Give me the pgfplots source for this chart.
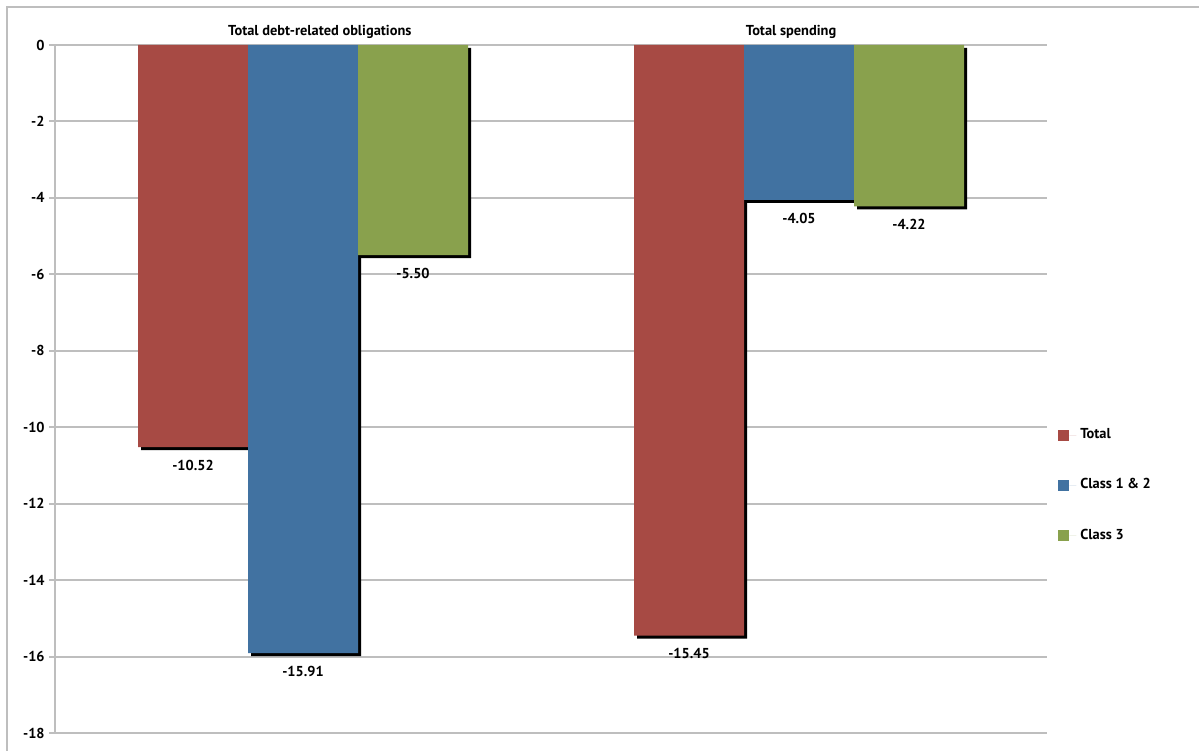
\documentclass[border=0pt]{standalone}
\usepackage{pgfplots}
\pgfplotsset{compat=1.18}
\usepackage{pgfplotstable}
\usepackage{fontspec}
\setmainfont{PT Sans}
\definecolor{cTotal}{RGB}{167,74,68}
\definecolor{cBlue}{RGB}{65,114,161}
\definecolor{cGreen}{RGB}{137,161,77}
\definecolor{gridgray}{RGB}{190,190,190}
\pgfplotstableread{
x Total Class12 Class3
0 -10.52 -15.91 -5.50
1 -15.45 -4.05 -4.22
}\data
\begin{document}
\begin{tikzpicture}
\useasboundingbox (0,0) rectangle (599.5pt,375pt);
\draw[gridgray, line width=1pt] (3.5pt,-1pt) -- (3.5pt,371.5pt) -- (600pt,371.5pt);
\begin{axis}[
  at={(27.5pt,8.5pt)}, anchor=south west,
  scale only axis, width=496pt, height=344pt,
  xmin=-0.5, xmax=1.5, ymin=-18, ymax=0,
  ytick={-18,-16,...,0},
  xtick=\empty,
  ymajorgrids, grid style={gridgray, line width=1pt},
  axis x line=none,
  axis y line*=left,
  axis line style={gridgray, line width=1pt, -},
  tick style={gridgray, line width=1pt},
  major tick length=3pt, tick align=outside,
  font=\bfseries\fontsize{7.2}{8.6}\selectfont,
  /pgf/number format/assume math mode=true,
  yticklabel style={font=\bfseries\fontsize{7.2}{8.6}\selectfont, inner sep=2pt, text=black},
  ybar, bar width=55pt,
  clip=false,
  legend style={draw=none, fill=none, at={(1.011,0.360)}, anchor=west,
    font=\bfseries\fontsize{7.2}{8.6}\selectfont, row sep=14.5pt, inner sep=0pt},
  legend cell align=left,
  legend image code/.code={\fill[#1] (0pt,-2.75pt) rectangle (5.5pt,2.75pt); \path (5.5pt,0pt) -- (9pt,0pt);},
  nodes near coords align={below},
  every node near coord/.append style={font=\bfseries\fontsize{7.2}{8.6}\selectfont, color=black, yshift=-3pt},
  nodes near coords={\pgfmathprintnumber[fixed, precision=2, fixed zerofill, assume math mode=true]{\pgfplotspointmeta}},
]
\addplot[forget plot, fill=black, draw=none, bar shift=-53.5pt, yshift=-1.5pt, nodes near coords={}] table[x=x, y=Total] {\data};
\addplot[forget plot, fill=black, draw=none, bar shift=1.5pt, yshift=-1.5pt, nodes near coords={}] table[x=x, y=Class12] {\data};
\addplot[forget plot, fill=black, draw=none, bar shift=56.5pt, yshift=-1.5pt, nodes near coords={}] table[x=x, y=Class3] {\data};
\addplot[fill=cTotal, draw=none, bar shift=-55pt] table[x=x, y=Total] {\data};
\addplot[fill=cBlue, draw=none, bar shift=0pt] table[x=x, y=Class12] {\data};
\addplot[fill=cGreen, draw=none, bar shift=55pt] table[x=x, y=Class3] {\data};
\legend{Total, Class 1 \& 2, Class 3}
\node[anchor=base, font=\bfseries\fontsize{7.2}{8.6}\selectfont, color=black, yshift=4.5pt] at (axis cs:0.034,0) {Total debt-related obligations};
\node[anchor=base, font=\bfseries\fontsize{7.2}{8.6}\selectfont, color=black, yshift=4.5pt] at (axis cs:0.984,0) {Total spending};
\end{axis}
\end{tikzpicture}
\end{document}
